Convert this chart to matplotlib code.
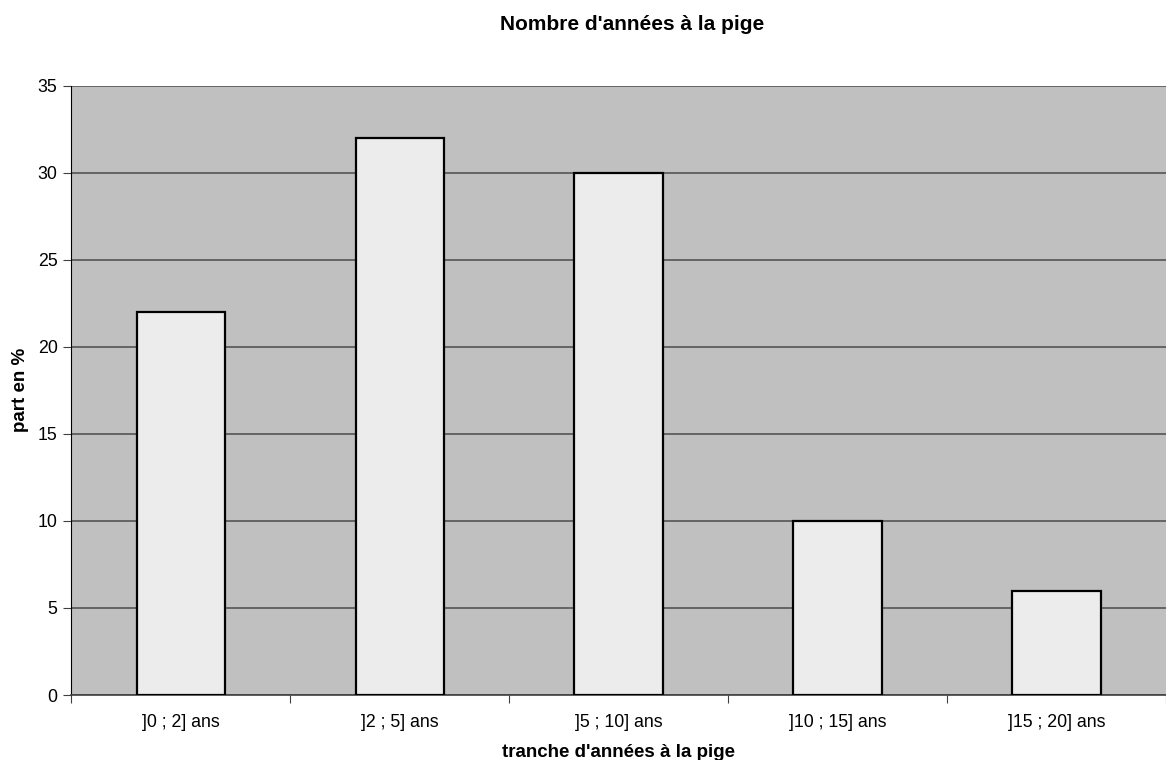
import numpy as np
import matplotlib.pyplot as plt

categories = [']0 ; 2] ans', ']2 ; 5] ans', ']5 ; 10] ans', ']10 ; 15] ans', ']15 ; 20] ans']
values = [22, 32, 30, 10, 6]

plt.rcParams['font.family'] = ['Liberation Sans', 'DejaVu Sans']

fig = plt.figure(figsize=(11.66, 7.6), dpi=100)
ax = fig.add_axes([0.0613, 0.0855, 0.9387, 0.8017])
ax.set_facecolor('#C0C0C0')

x = np.arange(len(categories))
ax.bar(x, values, width=0.405, color='#ECECEC', edgecolor='black', linewidth=1.6, zorder=3)

ax.set_xlim(-0.5, len(categories) - 0.5)
ax.set_ylim(0, 35)
ax.set_yticks(np.arange(0, 36, 5))
ax.yaxis.grid(True, color='#555555', linewidth=1.2, zorder=1)
ax.set_axisbelow(True)

# major ticks on category boundaries, labels on minor ticks at centres
ax.set_xticks(np.arange(-0.5, len(categories), 1.0))
ax.set_xticklabels([])
ax.set_xticks(x, minor=True)
ax.set_xticklabels(categories, minor=True, fontsize=12.8)
ax.tick_params(axis='x', which='minor', length=0, pad=14)
ax.tick_params(axis='x', which='major', length=6, color='#404040')
ax.tick_params(axis='y', length=6, labelsize=12.8, pad=4, color='#404040')

for s in ['top', 'right']:
    ax.spines[s].set_visible(False)
ax.spines['left'].set_color('black')
ax.spines['bottom'].set_color('#404040')
ax.spines['bottom'].set_linewidth(1.2)

ax.set_xlabel("tranche d'années à la pige", fontsize=13.5, fontweight='bold', va='center')
ax.xaxis.set_label_coords(0.5, -0.0936)
ax.set_ylabel('part en %', fontsize=13.5, fontweight='bold', va='center')
ax.yaxis.set_label_coords(-0.047, 0.5)
fig.text(0.542, 0.968, "Nombre d'années à la pige", fontsize=15, fontweight='bold',
         ha='center', va='center')

plt.savefig('out.png', dpi=100)
